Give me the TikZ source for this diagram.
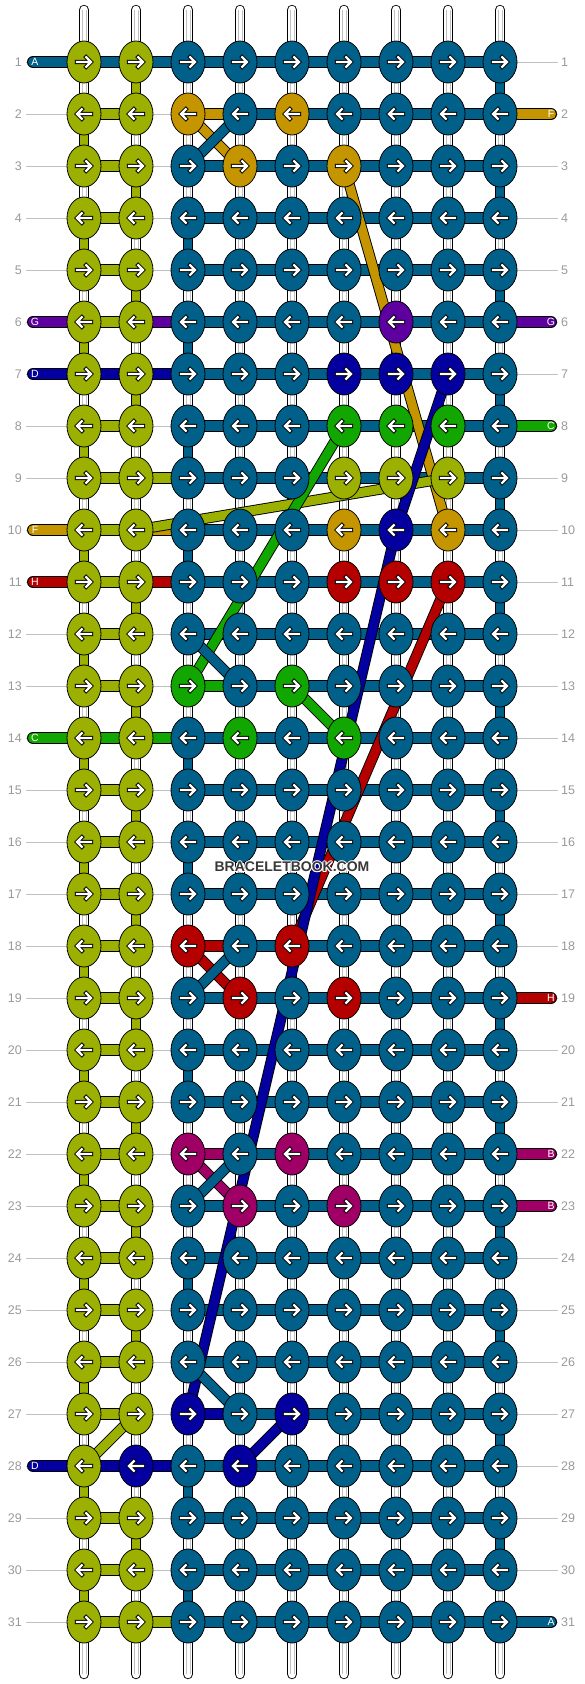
\documentclass[tikz,border=0pt]{standalone}
\usepackage{fontspec}
\setmainfont{Liberation Sans}
\usetikzlibrary{shapes.geometric,calc}
\definecolor{tl}{HTML}{00608A}
\definecolor{yg}{HTML}{9BB000}
\definecolor{gd}{HTML}{C59500}
\definecolor{pu}{HTML}{5E00A0}
\definecolor{db}{HTML}{0400A0}
\definecolor{gr}{HTML}{12A600}
\definecolor{rd}{HTML}{B50000}
\definecolor{mg}{HTML}{A00066}
\definecolor{numgray}{HTML}{9A9A9A}
\definecolor{guide}{HTML}{C0C0C0}
\newcommand\setc[2]{\expandafter\gdef\csname #1\endcsname{#2}}
\def\nonestr{none}
% knot colour overrides k-col-row
\setc{k-3-2}{gd}\setc{k-5-2}{gd}\setc{k-4-3}{gd}\setc{k-6-3}{gd}
\setc{k-7-6}{pu}
\setc{k-6-7}{db}\setc{k-7-7}{db}\setc{k-8-7}{db}
\setc{k-6-8}{gr}\setc{k-7-8}{gr}\setc{k-8-8}{gr}
\setc{k-6-9}{yg}\setc{k-7-9}{yg}\setc{k-8-9}{yg}
\setc{k-6-10}{gd}\setc{k-7-10}{db}\setc{k-8-10}{gd}
\setc{k-6-11}{rd}\setc{k-7-11}{rd}\setc{k-8-11}{rd}
\setc{k-3-13}{gr}\setc{k-5-13}{gr}\setc{k-4-14}{gr}\setc{k-6-14}{gr}
\setc{k-3-18}{rd}\setc{k-5-18}{rd}\setc{k-4-19}{rd}\setc{k-6-19}{rd}
\setc{k-3-22}{mg}\setc{k-5-22}{mg}\setc{k-4-23}{mg}\setc{k-6-23}{mg}
\setc{k-3-27}{db}\setc{k-5-27}{db}\setc{k-2-28}{db}\setc{k-4-28}{db}
% bar overrides h-row-gap
\setc{h-1-1}{tl}\setc{h-1-2}{tl}
\setc{h-2-3}{gd}
\setc{h-6-2}{pu}
\setc{h-7-1}{db}\setc{h-7-2}{db}
\setc{h-9-2}{yg}
\setc{h-10-2}{gd}
\setc{h-11-2}{rd}
\setc{h-13-3}{gr}
\setc{h-14-1}{gr}\setc{h-14-2}{gr}
\setc{h-18-3}{rd}
\setc{h-22-3}{mg}
\setc{h-27-3}{db}
\setc{h-28-1}{db}\setc{h-28-2}{db}
\setc{h-31-2}{yg}
\tikzset{
  knot/.style={ellipse, draw=black, line width=0.8pt, minimum width=34pt, minimum height=42pt, inner sep=0pt, fill=#1},
  bar/.style={draw=black, line width=1pt, double=#1, double distance=10pt},
  vlink/.style={draw=black, line width=0.9pt, double=#1, double distance=8.6pt},
  diag/.style={draw=black, line width=0.9pt, double=#1, double distance=9pt},
  labbar/.style={draw=black, line width=1pt, double=#1, double distance=10pt, line cap=round},
  wstring/.style={draw=black, line width=0.9pt, double=white, double distance=8.6pt, line cap=round},
  labtext/.style={text=white, font=\fontsize{10.5}{10.5}\selectfont, inner sep=0pt},
  numtext/.style={text=numgray, font=\fontsize{12.5}{12.5}\selectfont, inner sep=0pt},
  guideline/.style={draw=guide, line width=0.8pt},
  wmtext/.style={font=\bfseries\fontsize{14}{14}\selectfont, inner sep=0pt},
}
\newcommand\karr[2]{%
  \begin{scope}[shift={(#1)}, xscale=#2]
    \draw[black, line width=4.2pt, line cap=rect, line join=miter] (-7,0) -- (6,0) (2.2,-4.8) -- (7,0) -- (2.2,4.8);
    \draw[white, line width=2.2pt, line cap=rect, line join=miter] (-7,0) -- (6,0) (2.2,-4.8) -- (7,0) -- (2.2,4.8);
  \end{scope}}
\begin{document}
\begin{tikzpicture}[x=1pt,y=-1pt]
\fill[white] (0,0) rectangle (584,1684);
\useasboundingbox (0,0) rectangle (584,1684);
% grid coordinates
\foreach \r in {1,...,31}{\foreach \c in {1,...,9}{\coordinate (p-\c-\r) at ({32+52*\c},{10+52*\r});}}
% white vertical strings
\foreach \c in {1,...,9}{
  \coordinate (top-\c) at ({32+52*\c},10);
  \coordinate (bot-\c) at ({32+52*\c},1674);
  \draw[wstring] (top-\c) -- (bot-\c);
  \draw[guide, line width=0.5pt] ($(top-\c)+(-2.2,0)$) -- ($(bot-\c)+(-2.2,0)$);
  \draw[guide, line width=0.5pt] ($(top-\c)+(2.2,0)$) -- ($(bot-\c)+(2.2,0)$);
}
% guide lines per row
\foreach \r in {1,...,31}{
  \coordinate (gl-\r) at (26,{10+52*\r});
  \coordinate (gr-\r) at (558,{10+52*\r});
  \draw[guideline] (gl-\r) -- (gr-\r);
}
% coloured vertical links
\foreach \r [evaluate=\r as \rn using int(\r+1)] in {2,4,...,30}{\draw[vlink=yg] (p-1-\r) -- (p-1-\rn);}
\foreach \r [evaluate=\r as \rn using int(\r+1)] in {1,3,5,7,11,13,15,17,19,21,23,25,29}{\draw[vlink=yg] (p-2-\r) -- (p-2-\rn);}
\foreach \r [evaluate=\r as \rn using int(\r+1)] in {4,6,8,10,14,16,20,24,28,30}{\draw[vlink=tl] (p-3-\r) -- (p-3-\rn);}
\foreach \r [evaluate=\r as \rn using int(\r+1)] in {1,3,...,29}{\draw[vlink=tl] (p-9-\r) -- (p-9-\rn);}
% horizontal bars
\foreach \r in {1,...,31}{
  \foreach \c [evaluate=\c as \cn using int(\c+1)] in {1,...,8}{
    \ifcsname h-\r-\c\endcsname
      \edef\bc{\csname h-\r-\c\endcsname}%
    \else
      \ifnum\c=1 \def\bc{yg}\else\ifnum\c=2 \def\bc{none}\else\def\bc{tl}\fi\fi
    \fi
    \ifx\bc\nonestr\else
      \draw[bar=\bc] (p-\c-\r) -- (p-\cn-\r);
    \fi
  }
}
% label strings
\foreach \r/\t/\col in {1/A/tl,6/G/pu,7/D/db,10/F/gd,11/H/rd,14/C/gr,28/D/db}{
  \coordinate (ll-\r) at (33,{10+52*\r});
  \draw[labbar=\col] (ll-\r) -- (p-1-\r);
  \node[labtext] (lt-\r) at (35,{10+52*\r}) {\t};
}
\foreach \r/\t/\col in {2/F/gd,6/G/pu,8/C/gr,19/H/rd,22/B/mg,23/B/mg,31/A/tl}{
  \coordinate (rl-\r) at (551,{10+52*\r});
  \draw[labbar=\col] (p-9-\r) -- (rl-\r);
  \node[labtext] (rt-\r) at (551,{10+52*\r}) {\t};
}
% diagonal strings
\draw[diag=gd] (p-3-2) -- (p-4-3);
\draw[diag=tl] (p-4-2) -- (p-3-3);
\draw[diag=gd] (p-6-3) -- (p-8-10);
\draw[diag=yg] (p-8-9) -- (p-2-10);
\draw[diag=gr] (p-6-8) -- (p-3-13);
\draw[diag=tl] (p-3-12) -- (p-4-13);
\draw[diag=gr] (p-5-13) -- (p-6-14);
\draw[diag=rd] (p-8-11) -- (p-5-18);
\draw[diag=db] (p-8-7) -- (p-7-10);
\draw[diag=db] (p-7-10) -- (p-3-27);
\draw[diag=rd] (p-3-18) -- (p-4-19);
\draw[diag=tl] (p-4-18) -- (p-3-19);
\draw[diag=mg] (p-3-22) -- (p-4-23);
\draw[diag=tl] (p-4-22) -- (p-3-23);
\draw[diag=tl] (p-3-26) -- (p-4-27);
\draw[diag=db] (p-5-27) -- (p-4-28);
\draw[diag=yg] (p-2-27) -- (p-1-28);
% knots
\foreach \r in {1,...,31}{
  \ifodd\r \def\dir{1}\else\def\dir{-1}\fi
  \foreach \c in {1,...,9}{
    \ifcsname k-\c-\r\endcsname
      \edef\kc{\csname k-\c-\r\endcsname}%
    \else
      \ifnum\c<3 \def\kc{yg}\else\def\kc{tl}\fi
    \fi
    \node[knot=\kc] (k-\c-\r) at (p-\c-\r) {};
    \karr{p-\c-\r}{\dir}
  }
}
% row numbers
\foreach \r in {1,...,31}{
  \node[numtext, anchor=east] (nl-\r) at (22,{10+52*\r}) {\r};
  \node[numtext, anchor=west] (nr-\r) at (561,{10+52*\r}) {\r};
}
% watermark with light halo
\foreach \dx/\dy in {-1/0,1/0,0/-1,0/1,-0.8/-0.8,0.8/0.8,-0.8/0.8,0.8/-0.8}{
  \node[wmtext, text=white] at ({292+\dx},{867+\dy}) {BRACELETBOOK.COM};
}
\node[wmtext, text=black!78] (wm) at (292,867) {BRACELETBOOK.COM};
\end{tikzpicture}
\end{document}
